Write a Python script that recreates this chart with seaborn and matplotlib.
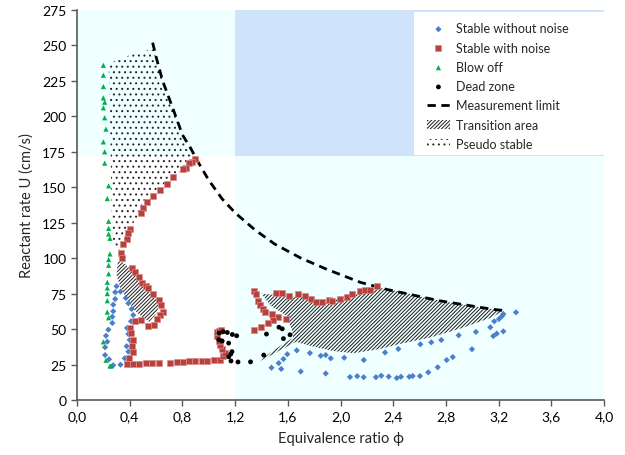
import matplotlib
matplotlib.use("Agg")
import matplotlib.pyplot as plt
from matplotlib.patches import Rectangle
from matplotlib.ticker import FuncFormatter, MultipleLocator
import seaborn as sns
import pandas as pd

# ---------------- data ----------------
blue_phi = [0.30, 0.29, 0.33, 0.29, 0.37, 0.275, 0.39, 0.275, 0.415, 0.268, 0.427, 0.268, 0.41,
            0.238, 0.38, 0.22, 0.39, 0.23, 0.40, 0.213, 0.377, 0.213, 0.39, 0.243, 0.362, 0.275, 0.33,
            1.476, 1.531, 1.550, 1.567, 1.596, 1.668, 1.698, 1.768, 1.850, 1.888, 1.926, 1.888,
            2.028, 2.177, 2.072, 2.127, 2.176, 2.269, 2.309, 2.366, 2.427, 2.459, 2.522, 2.548,
            2.603, 2.666, 2.738, 2.806, 2.852, 2.998, 2.338, 2.439, 2.606, 2.689, 2.765, 2.897,
            3.028, 3.137, 3.160, 3.186, 3.236, 3.167, 3.203, 3.224, 3.236, 3.332]
blue_U = [80.2, 76.0, 76.4, 71.2, 71.9, 67.2, 68.2, 62.6, 64.2, 58.7, 59.9, 54.3, 55.5,
          49.6, 50.8, 45.3, 46.5, 41.1, 42.3, 37.2, 37.9, 31.7, 34.1, 28.7, 29.4, 24.5, 24.9,
          22.8, 26.0, 21.9, 28.9, 32.3, 35.0, 20.1, 33.1, 31.2, 31.7, 29.4, 18.7,
          29.8, 28.2, 16.2, 16.8, 16.1, 16.1, 17.1, 16.5, 15.5, 16.4, 16.4, 16.9,
          16.9, 19.5, 23.1, 28.2, 30.3, 35.8, 33.5, 36.0, 39.3, 40.7, 42.3, 45.6,
          48.0, 51.3, 45.1, 46.8, 48.4, 55.5, 57.1, 59.0, 60.6, 61.8]

red_phi = [0.896, 0.871, 0.852, 0.827, 0.801, 0.730, 0.681, 0.632, 0.578, 0.531, 0.501, 0.483,
           0.400, 0.389, 0.380, 0.351, 0.332, 0.342, 0.417, 0.440, 0.468, 0.491, 0.521, 0.541,
           0.579, 0.622, 0.638, 0.650, 0.630, 0.607, 0.587, 0.541, 0.483, 0.438, 0.402, 0.410,
           0.427, 0.417, 0.427, 0.392, 0.380, 0.427, 0.468, 0.521, 0.569, 0.622, 0.708, 0.757,
           0.801, 0.850, 0.897, 0.951, 0.989, 1.038, 1.089, 1.110, 1.123, 1.098, 1.085, 1.078,
           1.060, 1.060, 1.080, 1.093,
           1.343, 1.359, 1.376, 1.389, 1.408, 1.427, 1.478, 1.528, 1.586, 1.490, 1.446, 1.398,
           1.345, 1.510, 1.556, 1.608, 1.679, 1.728, 1.776, 1.816, 1.857, 1.915, 1.933, 1.996,
           2.047, 2.085, 2.148, 2.186, 2.225, 2.277]
red_U = [170.0, 167.6, 166.8, 163.5, 162.6, 157.3, 152.5, 148.1, 143.7, 139.4, 135.4, 131.9,
         120.6, 117.6, 113.8, 110.2, 103.7, 100.4, 93.3, 90.5, 86.5, 82.3, 80.4, 78.8,
         74.8, 70.5, 67.0, 62.3, 59.9, 57.1, 52.9, 52.4, 56.4, 55.9, 51.0, 47.0,
         42.5, 38.3, 34.1, 29.4, 25.2, 25.4, 25.4, 25.9, 25.9, 26.3, 26.4, 26.7,
         26.8, 27.2, 27.2, 27.6, 27.6, 28.0, 28.0, 31.2, 33.1, 36.0, 39.0, 41.4,
         44.9, 47.7, 48.9, 49.6,
         77.1, 74.8, 69.5, 67.1, 64.4, 61.8, 60.6, 58.7, 57.0, 56.2, 54.1, 51.7,
         49.4, 75.7, 75.3, 73.6, 74.5, 73.1, 71.2, 68.9, 69.1, 70.5, 69.5, 71.2,
         72.8, 74.5, 77.1, 77.7, 77.7, 80.7]

green_phi = [0.20, 0.20, 0.20, 0.20, 0.21, 0.20, 0.21, 0.22, 0.20, 0.21, 0.21, 0.24, 0.23, 0.24,
             0.24, 0.24, 0.25, 0.25, 0.24, 0.24, 0.24, 0.23, 0.23, 0.23, 0.23, 0.23, 0.24, 0.20,
             0.22, 0.25, 0.26]
green_U = [236, 229, 221, 213, 210, 206, 199, 191, 182, 175, 167, 151, 142, 126,
           121, 117, 114, 103, 99, 95, 89, 83, 79, 75, 70, 62, 58, 41,
           28, 24, 24]

black_phi = [1.078, 1.110, 1.141, 1.179, 1.212, 1.076, 1.102, 1.151, 1.176, 1.167, 1.152, 1.169,
             1.222, 1.317, 1.438, 1.417, 1.533, 1.558, 1.567, 1.617]
black_U = [47.2, 48.2, 47.6, 46.2, 45.3, 42.5, 41.6, 40.1, 34.1, 32.4, 30.5, 27.5,
           26.8, 26.9, 46.5, 31.7, 51.3, 50.2, 43.3, 46.0]

limit_phi = [0.574, 0.60, 0.65, 0.73, 0.80, 0.86, 0.93, 1.00, 1.10, 1.20, 1.35, 1.50, 1.70,
             1.90, 2.15, 2.35, 2.55, 2.75, 2.95, 3.15, 3.25]
limit_U = [252, 242, 225, 205, 187, 178, 166, 155, 142, 132, 120, 110, 100,
           92, 83, 78, 74, 70, 67, 64, 63]

trans_left_phi = [0.31, 0.35, 0.41, 0.47, 0.53, 0.58, 0.62, 0.61, 0.55, 0.50, 0.44, 0.38, 0.33, 0.30]
trans_left_U = [98, 97, 92, 86, 80, 74, 68, 62, 55, 58, 63, 71, 79, 88]

trans_right_phi = [1.40, 1.52, 1.61, 1.70, 1.80, 1.90, 2.00, 2.10, 2.20, 2.30, 2.45, 2.65, 2.85,
                   3.05, 3.24, 3.14, 2.93, 2.68, 2.45, 2.30, 2.10, 1.95, 1.80, 1.66, 1.46, 1.37,
                   1.46, 1.64, 1.64, 1.63, 1.60, 1.59, 1.47]
trans_right_U = [75, 74, 73, 73, 70, 70, 72, 75, 78, 79, 76.5, 72, 68.5,
                 65.5, 63, 58, 51, 44, 39.5, 36, 33, 34.5, 37.5, 41, 31, 26.5,
                 33, 44, 45, 50, 56, 59.5, 66.5]

pseudo_phi = [0.24, 0.30, 0.40, 0.50, 0.575, 0.60, 0.65, 0.73, 0.80, 0.87, 0.83, 0.73, 0.63,
              0.53, 0.48, 0.40, 0.36, 0.32, 0.27, 0.26, 0.25]
pseudo_U = [236, 240, 243, 246, 247, 242, 225, 205, 187, 172, 164, 157, 148,
            139, 132, 121, 112, 106, 108, 150, 200]

phi_split = 1.2
U_split = 172

x_ticks = [0.0, 0.4, 0.8, 1.2, 1.6, 2.0, 2.4, 2.8, 3.2, 3.6, 4.0]

# ---------------- style ----------------
sns.set_style("ticks")
plt.rcParams['font.family'] = ['Lato', 'DejaVu Sans']
plt.rcParams['hatch.linewidth'] = 0.7

fig = plt.figure(figsize=(6.25, 4.56), dpi=100)
ax = fig.add_axes([0.1232, 0.1206, 0.8432, 0.8553])
ax.set_xlim(0, 4)
ax.set_ylim(0, 275)

c_cyan = '#F0FFFF'
c_blue = '#CFE3FB'
ax.add_patch(Rectangle((0, U_split), phi_split, 275 - U_split, facecolor=c_cyan, edgecolor='none', zorder=0))
ax.add_patch(Rectangle((phi_split, U_split), 4 - phi_split, 275 - U_split, facecolor=c_blue, edgecolor='none', zorder=0))
ax.add_patch(Rectangle((phi_split, 0), 4 - phi_split, U_split, facecolor=c_cyan, edgecolor='none', zorder=0))

# white legend panel
ax.add_patch(Rectangle((0.6395, 0.628), 0.3605, 0.367, transform=ax.transAxes,
                       facecolor='white', edgecolor='none', zorder=0.5))

ax.fill(trans_left_phi, trans_left_U, facecolor='none', edgecolor='#1a1a1a', hatch='/////////',
        linewidth=0, zorder=1, label='Transition area')
ax.fill(trans_right_phi, trans_right_U, facecolor='none', edgecolor='#1a1a1a', hatch='/////////',
        linewidth=0, zorder=1)
ax.fill(pseudo_phi, pseudo_U, facecolor='none', edgecolor='#222222', hatch='...',
        linewidth=0, zorder=1, label='Pseudo stable')

sns.lineplot(x=limit_phi, y=limit_U, sort=False, estimator=None, color='black', lw=2,
             dashes=False, linestyle=(0, (3, 2)), ax=ax, zorder=3, label='Measurement limit')

sns.scatterplot(x=blue_phi, y=blue_U, marker='D', s=10, color='#4A7FCC', edgecolor='none',
                ax=ax, zorder=4, label='Stable without noise')
sns.scatterplot(x=red_phi, y=red_U, marker='s', s=14, color='#B8403D', edgecolor='#D88C8A',
                linewidth=0.5, ax=ax, zorder=4, label='Stable with noise')
sns.scatterplot(x=green_phi, y=green_U, marker='^', s=14, color='#00B050', edgecolor='none',
                ax=ax, zorder=4, label='Blow off')
sns.scatterplot(x=black_phi, y=black_U, marker='o', s=12, color='black', edgecolor='none',
                ax=ax, zorder=4, label='Dead zone')

ax.set_xticks(x_ticks)
ax.xaxis.set_major_formatter(FuncFormatter(lambda v, p: f"{v:.1f}".replace('.', ',')))
ax.yaxis.set_major_locator(MultipleLocator(25))
ax.tick_params(axis='both', labelsize=10, length=4, width=1, color='#595959', colors='black')
ax.tick_params(axis='both', color='#595959')
for s in ['top', 'right']:
    ax.spines[s].set_visible(False)
for s in ['left', 'bottom']:
    ax.spines[s].set_color('#595959')
    ax.spines[s].set_linewidth(1.2)

ax.set_xlabel('Equivalence ratio ϕ', fontsize=10.5, labelpad=6)
ax.set_ylabel('Reactant rate U (cm/s)', fontsize=10.5, labelpad=6)

h, l = ax.get_legend_handles_labels()
order = ['Stable without noise', 'Stable with noise', 'Blow off', 'Dead zone',
         'Measurement limit', 'Transition area', 'Pseudo stable']
hd = dict(zip(l, h))
leg = ax.legend([hd[k] for k in order], order, loc='upper left', bbox_to_anchor=(0.664, 0.968),
                fontsize=9, frameon=False, handlelength=1.84, handletextpad=0.48,
                labelspacing=0.58, borderpad=0.0, borderaxespad=0.0)
leg.set_zorder(6)

fig.savefig('out.png', dpi=100)
